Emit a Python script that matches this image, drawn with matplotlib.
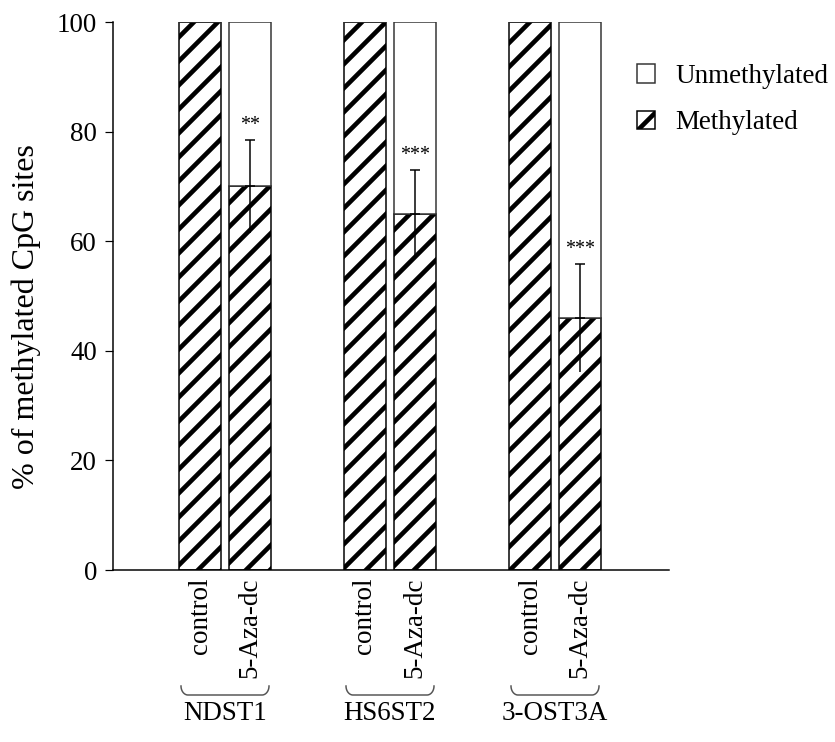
import numpy as np
import matplotlib
matplotlib.use("Agg")
import matplotlib.pyplot as plt
from matplotlib.patches import Patch
from matplotlib.transforms import blended_transform_factory

# data
genes = ["NDST1", "HS6ST2", "3-OST3A"]
conditions = ["control", "5-Aza-dc"]
methylated_control = [100, 100, 100]
methylated_aza = [70, 65, 46]
err_aza = [8.5, 8, 9.8]
stars = ["**", "***", "***"]

plt.rcParams["font.family"] = ["Liberation Serif", "DejaVu Serif"]
plt.rcParams["hatch.linewidth"] = 4.6

DPI = 72
FS = 27
fig = plt.figure(figsize=(835 / DPI, 742 / DPI), dpi=DPI)
ax = fig.add_axes([113 / 835, (742 - 570) / 742, (669 - 113) / 835, (570 - 22) / 742])

group_pos = np.arange(len(genes)) * 3.3
width = 0.84
x_ctrl = group_pos - 0.5
x_aza = group_pos + 0.5

meth_c = np.array(methylated_control, dtype=float)
meth_a = np.array(methylated_aza, dtype=float)

for xs, m in [(x_ctrl, meth_c), (x_aza, meth_a)]:
    ax.bar(xs, m, width, color="white", edgecolor="black", hatch="/", linewidth=1.5)
    ax.bar(xs, 100 - m, width, bottom=m, color="white", edgecolor="#333333", linewidth=1.5)

# error bars: cap only on top
ax.errorbar(x_aza, meth_a, yerr=[np.zeros(3), err_aza], fmt="none", ecolor="black",
            elinewidth=1.5, capsize=5, capthick=1.5)
ax.errorbar(x_aza, meth_a, yerr=[err_aza, np.zeros(3)], fmt="none", ecolor="black",
            elinewidth=1.5, capsize=0)

for x, m, e, s in zip(x_aza, meth_a, err_aza, stars):
    ax.annotate(s, (x, m + e), xytext=(0, 5), textcoords="offset points",
                ha="center", va="bottom", fontsize=20)

ax.set_xlim(-2.24, 8.88)
ax.set_ylim(0, 100)
ax.set_yticks([0, 20, 40, 60, 80, 100])
ax.tick_params(axis="y", direction="out", length=8, width=1.2, labelsize=FS, pad=8)
ax.spines["top"].set_visible(False)
ax.spines["right"].set_visible(False)
ax.spines["left"].set_linewidth(1.5)
ax.spines["bottom"].set_linewidth(1.5)

xt = np.concatenate([x_ctrl, x_aza])
xl = [conditions[0]] * 3 + [conditions[1]] * 3
ax.set_xticks(xt)
ax.set_xticklabels(xl, rotation=90, fontsize=FS, va="top")
ax.tick_params(axis="x", length=0, pad=8)

ax.set_ylabel("% of methylated CpG sites", fontsize=32)
ax.yaxis.set_label_coords(-0.13, 0.462)

# braces and gene names under each group
trans = blended_transform_factory(ax.transData, ax.transAxes)
ppx = 50.0  # pixels per data unit in x
ppy = 548.0
t = np.linspace(0, np.pi / 2, 20)
for g, name in zip(group_pos, genes):
    x0 = g - 44 / ppx
    x1 = g + 44 / ppx
    r = 7 / ppx
    yt = -116 / ppy
    yb = -125 / ppy
    lx = x0 + r * (1 - np.cos(t))
    ly = yt - (yt - yb) * np.sin(t)
    rx = x1 - r + r * np.sin(t)
    ry = yb + (yt - yb) * (1 - np.cos(t))
    ax.plot(np.concatenate([lx, rx]), np.concatenate([ly, ry]), color="#555555",
            lw=1.5, transform=trans, clip_on=False)
    ax.text(g, -143 / ppy, name, transform=trans, ha="center", va="center", fontsize=FS)

handles = [Patch(facecolor="white", edgecolor="#333333", linewidth=1.5, label="Unmethylated"),
           Patch(facecolor="white", edgecolor="black", hatch="/", linewidth=1.5, label="Methylated")]
fig.legend(handles=handles, loc="upper left", bbox_to_anchor=(626 / 835, 1 - 53 / 742),
           frameon=False, fontsize=FS, handlelength=0.68, handleheight=0.68,
           handletextpad=0.75, labelspacing=0.8, borderaxespad=0)

fig.savefig("out.png", dpi=DPI)
